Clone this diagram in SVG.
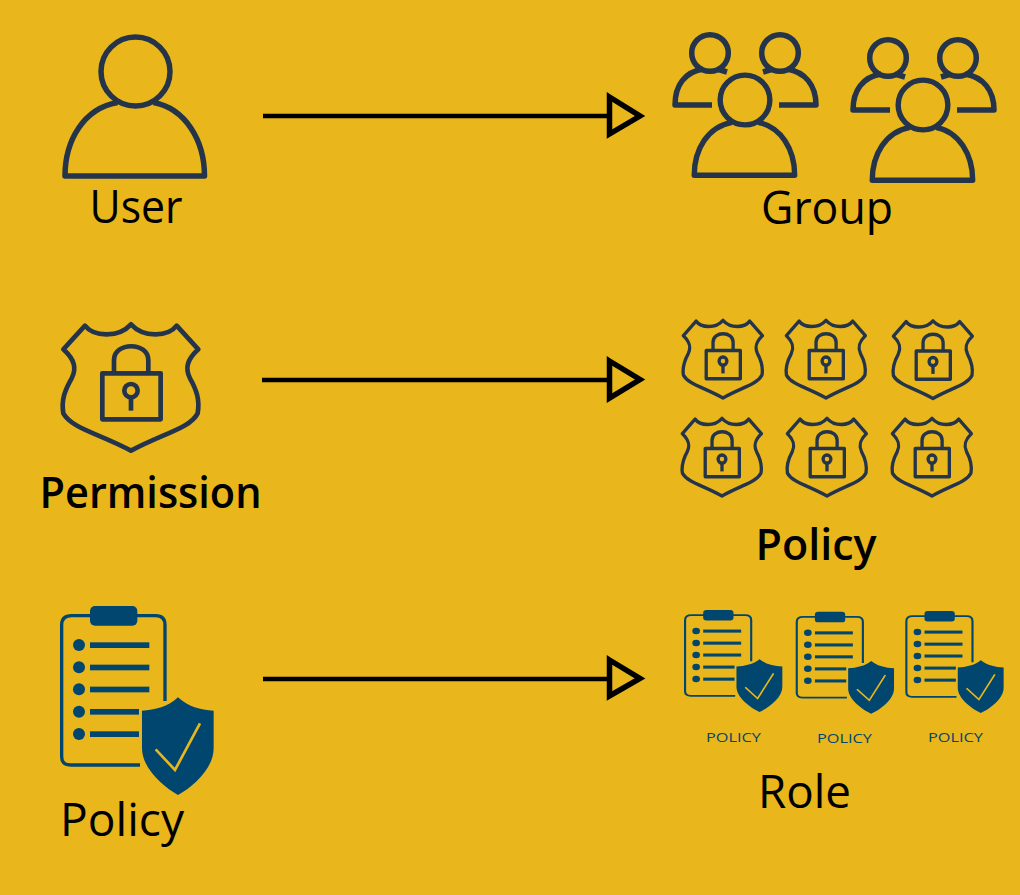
<svg xmlns="http://www.w3.org/2000/svg" width="1020" height="895" viewBox="0 0 1020 895">
  <style>
    .ink { fill: none; stroke: #23344b; stroke-linejoin: round; }
    .label { font-family: "Open Sans", "Noto Sans", "Liberation Sans", sans-serif; fill: #000; }
    .semi { font-weight: 600; }
    .tiny { font-family: "Open Sans", "Liberation Sans", sans-serif; font-size: 12.5px; fill: #00466e; }
    .navy { fill: #00466e; }
    .wire { fill: none; stroke: #000; stroke-width: 4.5; }
    .head { fill: none; stroke: #000; stroke-width: 5.5; stroke-linejoin: miter; }
  </style>
  <defs>
    <!-- person: head centred on the origin -->
    <g id="person" class="ink">
      <circle cx="0" cy="0" r="34.5"/>
      <path d="M-18,31 C-52,37 -70.5,69 -70.5,104.5 H69 C69,69 50,37 18,31"/>
    </g>
    <!-- two people standing behind a front one -->
    <g id="trio">
      <g class="ink" stroke-width="5.5">
        <circle cx="-35" cy="-47" r="18.300"/>
        <circle cx="35" cy="-47" r="18.300"/>
        <path d="M-42,-31 C-60,-28 -70,-15 -70,5 H-33"/>
        <path d="M-28,-31 L-18,-28"/>
        <path d="M42,-31 C60,-28 71,-15 71,5 H34"/>
        <path d="M28,-31 L18,-28"/>
      </g>
      <use href="#person" transform="scale(.72)" stroke-width="7.500"/>
    </g>
    <!-- shield with padlock -->
    <g id="badge" class="ink">
      <path d="M165,47 C190,80 265,85 303,43 C342,85 415,80 440,47 L505,118 C470,150 465,175 480,205 C500,240 510,270 503,310 C480,355 400,370 303,422 C205,370 125,355 100,310 C93,270 105,240 125,205 C140,175 135,150 100,118 Z"/>
      <rect x="217" y="190" width="175" height="138"/>
      <path d="M252,190 V150 C252,95 355,95 355,150 V190"/>
      <circle cx="303" cy="242" r="20"/>
      <path d="M303,262 V302"/>
    </g>
    <!-- clipboard with check shield -->
    <g id="clipboard">
      <path d="M375,318 V90 Q375,62 347,62 H95 Q65,62 65,90 V485 Q65,510 92,510 H300" fill="none" stroke="#00466e" stroke-width="10"/>
      <rect class="navy" x="150" y="33" width="142" height="59" rx="15"/>
      <g class="navy">
        <circle cx="117" cy="150" r="18"/><rect x="150" y="142" width="178" height="17"/>
        <circle cx="117" cy="217" r="18"/><rect x="150" y="209" width="178" height="17"/>
        <circle cx="117" cy="283" r="18"/><rect x="150" y="275" width="178" height="17"/>
        <circle cx="117" cy="350" r="18"/><rect x="150" y="342" width="147" height="17"/>
        <circle cx="117" cy="417" r="18"/><rect x="150" y="409" width="147" height="17"/>
      </g>
      <path class="navy" d="M414,307 C385,335 345,345 306,347 V460 C306,520 370,575 414,600 C460,575 521,520 521,460 V347 C480,345 445,335 414,307 Z"/>
      <path d="M347,463 L405,525 L480,385" fill="none" stroke="#e9b61c" stroke-width="8"/>
    </g>
  </defs>

  <rect width="1020" height="895" fill="#e9b61c"/>

  <g id="connectors">
    <path class="wire" d="M263,116 H610"/>
    <path class="head" d="M609.500,97 L640,116 L609.500,134 Z"/>
    <path class="wire" d="M262,380 H610"/>
    <path class="head" d="M609.500,361 L640,379.500 L609.500,398 Z"/>
    <path class="wire" d="M263,679 H610"/>
    <path class="head" d="M609.500,660 L640,678.500 L609.500,696 Z"/>
  </g>

  <g id="user">
    <use href="#person" transform="translate(135.500,71.500)" stroke-width="5.500"/>
    <text class="label" x="89.500" y="223" font-size="45" textLength="93" lengthAdjust="spacingAndGlyphs">User</text>
  </g>

  <g id="group">
    <use href="#trio" transform="translate(745,100)"/>
    <use href="#trio" transform="translate(923,105)"/>
    <text class="label" x="761" y="224" font-size="45" textLength="132" lengthAdjust="spacingAndGlyphs">Group</text>
  </g>

  <g id="permission">
    <use href="#badge" transform="translate(30,310) scale(.3333)" stroke-width="14"/>
    <text class="label semi" x="39.500" y="508" font-size="43" textLength="222" lengthAdjust="spacingAndGlyphs">Permission</text>
  </g>

  <g id="permission-policy" stroke-width="17">
    <use href="#badge" transform="translate(663.900,311.500) scale(.195,.205)"/>
    <use href="#badge" transform="translate(766.900,311.500) scale(.195,.205)"/>
    <use href="#badge" transform="translate(873.900,312) scale(.195,.205)"/>
    <use href="#badge" transform="translate(662.900,409.500) scale(.195,.205)"/>
    <use href="#badge" transform="translate(767.900,409.500) scale(.195,.205)"/>
    <use href="#badge" transform="translate(872.900,409.500) scale(.195,.205)"/>
    <text class="label semi" x="755.500" y="560" font-size="43" stroke="none" textLength="121" lengthAdjust="spacingAndGlyphs">Policy</text>
  </g>

  <g id="policy">
    <use href="#clipboard" transform="translate(40,595) scale(.3333)"/>
    <text class="label" x="60" y="836" font-size="45" textLength="124" lengthAdjust="spacingAndGlyphs">Policy</text>
  </g>

  <g id="role">
    <use href="#clipboard" transform="translate(671.200,604) scale(.2133,.18)"/>
    <use href="#clipboard" transform="translate(782.900,605.800) scale(.2133,.18)"/>
    <use href="#clipboard" transform="translate(892.500,605) scale(.2133,.18)"/>
    <text class="tiny" x="706" y="742" textLength="55" lengthAdjust="spacingAndGlyphs">POLICY</text>
    <text class="tiny" x="817" y="743" textLength="55" lengthAdjust="spacingAndGlyphs">POLICY</text>
    <text class="tiny" x="928" y="742" textLength="55" lengthAdjust="spacingAndGlyphs">POLICY</text>
    <text class="label" x="758" y="808" font-size="45" textLength="93" lengthAdjust="spacingAndGlyphs">Role</text>
  </g>
</svg>
